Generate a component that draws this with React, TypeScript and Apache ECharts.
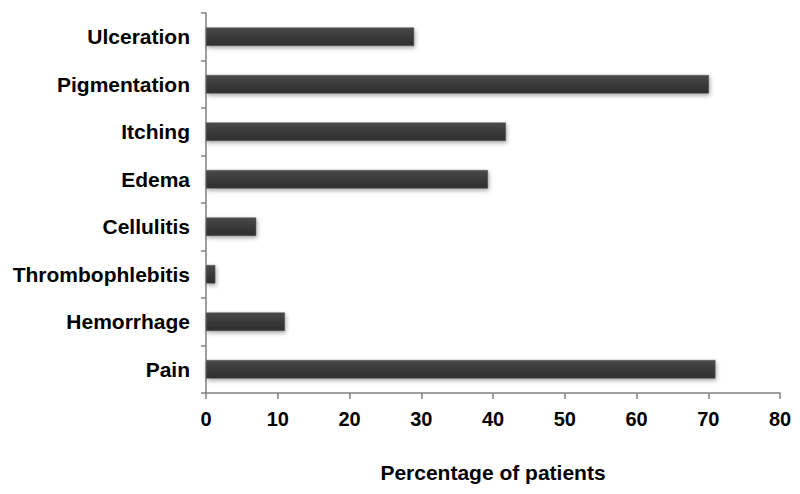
import React, { useEffect, useRef } from "react";
import * as echarts from "echarts";

const categories = [
  "Pain",
  "Hemorrhage",
  "Thrombophlebitis",
  "Cellulitis",
  "Edema",
  "Itching",
  "Pigmentation",
  "Ulceration",
];
const values = [71, 11, 1.3, 7, 39.3, 41.8, 70.1, 29];
const xTicks = { min: 0, max: 80, interval: 10 };
const xAxisTitle = "Percentage of patients";

export default function App() {
  const ref = useRef<HTMLDivElement>(null);
  useEffect(() => {
    if (!ref.current) return;
    const chart = echarts.init(ref.current, undefined, { renderer: "svg" });
    const font = "'Liberation Sans', Arial, sans-serif";
    chart.setOption({
      animation: false,
      backgroundColor: "#ffffff",
      grid: { left: 206, right: 20, top: 13, bottom: 101, containLabel: false },
      xAxis: {
        type: "value",
        min: xTicks.min,
        max: xTicks.max,
        interval: xTicks.interval,
        name: xAxisTitle,
        nameLocation: "middle",
        nameGap: 69,
        nameTextStyle: { fontFamily: font, fontWeight: "bold", fontSize: 21, color: "#000" },
        axisLine: { show: true, lineStyle: { color: "#808080", width: 1.5 } },
        axisTick: { show: true, length: 6, lineStyle: { color: "#808080", width: 1.5 } },
        axisLabel: { fontFamily: font, fontWeight: "bold", fontSize: 20, color: "#000", margin: 16 },
        splitLine: { show: false },
      },
      yAxis: {
        type: "category",
        data: categories,
        axisLine: { show: true, lineStyle: { color: "#808080", width: 1.5 } },
        axisTick: { show: true, length: 5, lineStyle: { color: "#808080", width: 1.5 } },
        axisLabel: { fontFamily: font, fontWeight: "bold", fontSize: 21, color: "#000", margin: 16 },
      },
      series: [
        {
          type: "bar",
          data: values,
          barWidth: "39%",
          itemStyle: {
            color: new echarts.graphic.LinearGradient(0, 0, 0, 1, [
              { offset: 0, color: "#4a4a4a" },
              { offset: 0.5, color: "#3a3a3a" },
              { offset: 1, color: "#2e2e2e" },
            ]),
            borderColor: "#555",
            borderWidth: 0.5,
            shadowColor: "rgba(0,0,0,0.35)",
            shadowBlur: 4,
            shadowOffsetX: 1,
            shadowOffsetY: 2,
          },
        },
      ],
    });
    return () => chart.dispose();
  }, []);
  return (
    <div
      ref={ref}
      style={{ position: "fixed", left: 0, top: 0, width: 800, height: 494, background: "#fff" }}
    />
  );
}
